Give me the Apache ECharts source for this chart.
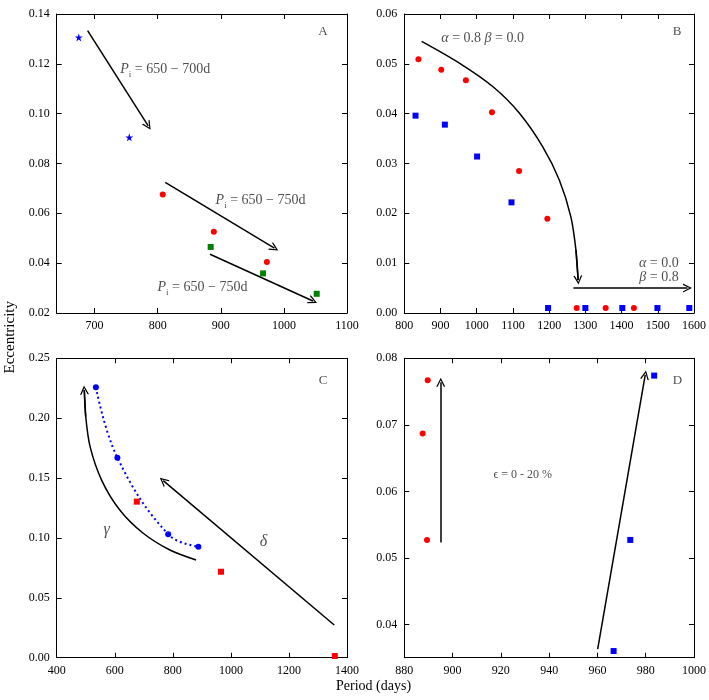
<!DOCTYPE html>
<html lang="en">
<head>
<meta charset="utf-8">
<title>Period - eccentricity</title>
<script src="https://cdn.jsdelivr.net/npm/echarts@6/dist/echarts.min.js"></script>
</head>
<body style="margin:0">
<div id="container" style="width:709px;height:700px"></div>
<script>
// panel A
var aStarP = [675, 755];
var aStarE = [0.1306, 0.0905];
var aCircP = [808, 889, 973];
var aCircE = [0.0676, 0.0526, 0.0405];
var aSqP = [884, 967, 1052];
var aSqE = [0.0465, 0.0359, 0.0277];
// panel B
var bCircP = [839, 902, 970, 1042, 1117, 1195, 1276, 1356, 1434];
var bCircE = [0.0509, 0.0488, 0.0467, 0.0403, 0.0285, 0.0189, 0.001, 0.001, 0.001];
var bSqP = [831, 912, 1001, 1096, 1197, 1300, 1402, 1499, 1587];
var bSqE = [0.0396, 0.0378, 0.0314, 0.0222, 0.001, 0.001, 0.001, 0.001, 0.001];
// panel C
var cCircP = [535, 609, 784, 888];
var cCircE = [0.2258, 0.167, 0.103, 0.0927];
var cSqP = [676, 966, 1358];
var cSqE = [0.1303, 0.0718, 0.0014];
// panel D
var dCircP = [889.7, 887.6, 889.4];
var dCircE = [0.0767, 0.0687, 0.0527];
var dSqP = [983.5, 973.6, 966.7];
var dSqE = [0.0774, 0.0527, 0.0360];

// tick values
var aTicksX = [700, 800, 900, 1000, 1100];
var aTicksY = [0.02, 0.04, 0.06, 0.08, 0.10, 0.12, 0.14];
var bTicksX = [800, 900, 1000, 1100, 1200, 1300, 1400, 1500, 1600];
var bTicksY = [0, 0.01, 0.02, 0.03, 0.04, 0.05, 0.06];
var cTicksX = [400, 600, 800, 1000, 1200, 1400];
var cTicksY = [0, 0.05, 0.10, 0.15, 0.20, 0.25];
var dTicksX = [880, 900, 920, 940, 960, 980, 1000];
var dTicksY = [0.04, 0.05, 0.06, 0.07, 0.08];

// arrow paths (data coords), last point is the tip
var aArrows = [
  [[689, 0.1333], [785, 0.0951]],
  [[812, 0.0724], [985, 0.0460]],
  [[883, 0.0436], [1046, 0.0248]]
];
var bArrows = [
  [[848, 0.0545], [953, 0.0501], [1045, 0.0454], [1118, 0.0401], [1182, 0.0334],
   [1228, 0.0267], [1260, 0.0193], [1274, 0.0126], [1280, 0.0066]],
  [[1267, 0.005], [1582, 0.005]]
];
var cArrows = [
  [[880, 0.0816], [790, 0.0899], [698, 0.1039], [618, 0.1231], [555, 0.1481],
   [515, 0.1762], [500, 0.2012], [495, 0.2235]],
  [[1356, 0.0273], [767, 0.1478]]
];
var dArrows = [
  [[895.1, 0.0523], [895.1, 0.0764]],
  [[960.1, 0.0363], [979.8, 0.0775]]
];

var serif = 'Liberation Serif';
var ink = '#222';
var starPath = 'path://M10,0 L12.245,6.91 L19.51,6.91 L13.63,11.18 L15.88,18.09 L10,13.82 L4.12,18.09 L6.37,11.18 L0.49,6.91 L7.755,6.91 Z';
var headPath = 'path://M0,10 L5,0 L10,10 L8.4,10 L5,2.9 L1.6,10 Z';

var grids = [
  {left: 56.7, top: 14, width: 290.3, height: 299},
  {left: 404.3, top: 14, width: 290.7, height: 299},
  {left: 56.7, top: 358.3, width: 290.3, height: 299.4},
  {left: 404.3, top: 358.3, width: 290.7, height: 299.4}
];
var ranges = [
  {x: [640, 1100], y: [0.02, 0.14], tx: aTicksX, ty: aTicksY},
  {x: [800, 1600], y: [0, 0.06], tx: bTicksX, ty: bTicksY},
  {x: [400, 1400], y: [0, 0.25], tx: cTicksX, ty: cTicksY},
  {x: [880, 1000], y: [0.035, 0.08], tx: dTicksX, ty: dTicksY}
];

function axis(g, pos, min, max, ticks, labels, fmt) {
  return {
    type: 'value', gridIndex: g, position: pos, min: min, max: max,
    axisLine: {show: true, onZero: false, lineStyle: {color: '#000', width: 1}},
    axisTick: {show: true, inside: true, length: 5, customValues: ticks, lineStyle: {color: '#000', width: 1}},
    axisLabel: {show: labels, customValues: ticks, formatter: fmt, color: '#000',
      fontFamily: serif, fontSize: 12, margin: 7},
    splitLine: {show: false}
  };
}

var xAxes = [], yAxes = [];
ranges.forEach(function (r, g) {
  var fx = function (v) { return String(Math.round(v)); };
  var fy = function (v) { return v.toFixed(2); };
  xAxes.push(axis(g, 'bottom', r.x[0], r.x[1], r.tx, true, fx));
  xAxes.push(axis(g, 'top', r.x[0], r.x[1], r.tx, false, fx));
  yAxes.push(axis(g, 'left', r.y[0], r.y[1], r.ty, true, fy));
  yAxes.push(axis(g, 'right', r.y[0], r.y[1], r.ty, false, fy));
});

function zip(xs, ys) {
  return xs.map(function (x, i) { return [x, ys[i]]; });
}

var series = [];
function pts(g, xs, ys, symbol, size, color) {
  series.push({
    type: 'scatter', xAxisIndex: 2 * g, yAxisIndex: 2 * g,
    data: zip(xs, ys), symbol: symbol, symbolSize: size,
    itemStyle: {color: color, opacity: 1}, z: 5, silent: true
  });
}
function arrows(g, paths) {
  var heads = [];
  paths.forEach(function (p) {
    if (p.length > 2) {
      // curved body
      series.push({
        type: 'line', xAxisIndex: 2 * g, yAxisIndex: 2 * g, data: p,
        smooth: 0.3, showSymbol: false, symbol: 'none',
        lineStyle: {color: '#000', width: 1.5}, z: 4, silent: true
      });
    }
    heads.push({coords: [p[p.length - 2], p[p.length - 1]]});
  });
  series.push({
    type: 'lines', coordinateSystem: 'cartesian2d', xAxisIndex: 2 * g, yAxisIndex: 2 * g,
    data: heads,
    symbol: ['none', headPath], symbolSize: [7, 9],
    lineStyle: {color: '#000', width: 1.5, opacity: 1}, z: 4, silent: true
  });
}
function note(g, x, y, fmt, pos, size, rich) {
  series.push({
    type: 'scatter', xAxisIndex: 2 * g, yAxisIndex: 2 * g,
    data: [[x, y]], symbolSize: 1, itemStyle: {color: 'rgba(0,0,0,0)'},
    label: {show: true, position: pos, distance: 0, formatter: fmt, color: ink,
      fontFamily: serif, fontSize: size, rich: rich || {}},
    z: 6, silent: true
  });
}

var piRich = {
  it: {fontFamily: serif, fontStyle: 'italic', fontSize: 14, lineHeight: 20, color: ink},
  sub: {fontFamily: serif, fontSize: 9, lineHeight: 9, verticalAlign: 'bottom', color: ink},
  n: {fontFamily: serif, fontSize: 14, lineHeight: 20, color: ink}
};
var mathRich = {
  it: {fontFamily: serif, fontStyle: 'italic', fontSize: 14, color: ink},
  n: {fontFamily: serif, fontSize: 14, color: ink}
};
var greekRich = {it: {fontFamily: serif, fontStyle: 'italic', fontSize: 16, color: ink}};

// panel A
pts(0, aStarP, aStarE, starPath, 8, '#0000ff');
pts(0, aCircP, aCircE, 'circle', 6, '#ff0000');
pts(0, aSqP, aSqE, 'rect', 6, '#008000');
arrows(0, aArrows);
note(0, 740, 0.1179, '{it|P}{sub|i}{n| = 650 − 700d}', 'right', 14, piRich);
note(0, 891, 0.0654, '{it|P}{sub|i}{n| = 650 − 750d}', 'right', 14, piRich);
note(0, 799, 0.0304, '{it|P}{sub|i}{n| = 650 − 750d}', 'right', 14, piRich);
note(0, 1062, 0.1328, 'A', 'inside', 13);

// panel B
pts(1, bCircP, bCircE, 'circle', 6, '#ff0000');
pts(1, bSqP, bSqE, 'rect', 6, '#0000ff');
arrows(1, bArrows);
note(1, 901, 0.0551, '{it|α}{n| = 0.8 }{it|β}{n| = 0.0}', 'right', 14, mathRich);
note(1, 1559, 0.0100, '{it|α}{n| = 0.0}', 'left', 14, mathRich);
note(1, 1559, 0.0072, '{it|β}{n| = 0.8}', 'left', 14, mathRich);
note(1, 1553, 0.0565, 'B', 'inside', 13);

// panel C
series.push({
  type: 'line', xAxisIndex: 4, yAxisIndex: 4, data: zip(cCircP, cCircE),
  smooth: 0.4, showSymbol: false, symbol: 'none',
  lineStyle: {color: '#0000ff', width: 2, type: [2, 3]}, z: 3, silent: true
});
pts(2, cCircP, cCircE, 'circle', 6, '#0000ff');
pts(2, cSqP, cSqE, 'rect', 6, '#ff0000');
arrows(2, cArrows);
note(2, 572, 0.107, '{it|γ}', 'inside', 16, greekRich);
note(2, 1112, 0.0968, '{it|δ}', 'inside', 16, greekRich);
note(2, 1318, 0.2313, 'C', 'inside', 13);

// panel D
pts(3, dCircP, dCircE, 'circle', 6, '#ff0000');
pts(3, dSqP, dSqE, 'rect', 6, '#0000ff');
arrows(3, dArrows);
note(3, 916.7, 0.0625, 'ϵ = 0 - 20 %', 'right', 12);
note(3, 993.1, 0.0766, 'D', 'inside', 13);

var myChart = echarts.init(document.getElementById('container'), null, {renderer: 'canvas'});
myChart.setOption({
  animation: false,
  backgroundColor: '#fff',
  grid: grids,
  xAxis: xAxes,
  yAxis: yAxes,
  series: series,
  graphic: [
    {type: 'text', left: 3, top: 301, rotation: Math.PI / 2,
      style: {text: 'Eccentricity', font: '15px "Liberation Serif"', fill: '#000'}},
    {type: 'text', left: 336, top: 679,
      style: {text: 'Period (days)', font: '14px "Liberation Serif"', fill: '#000'}}
  ]
});
</script>
</body>
</html>
